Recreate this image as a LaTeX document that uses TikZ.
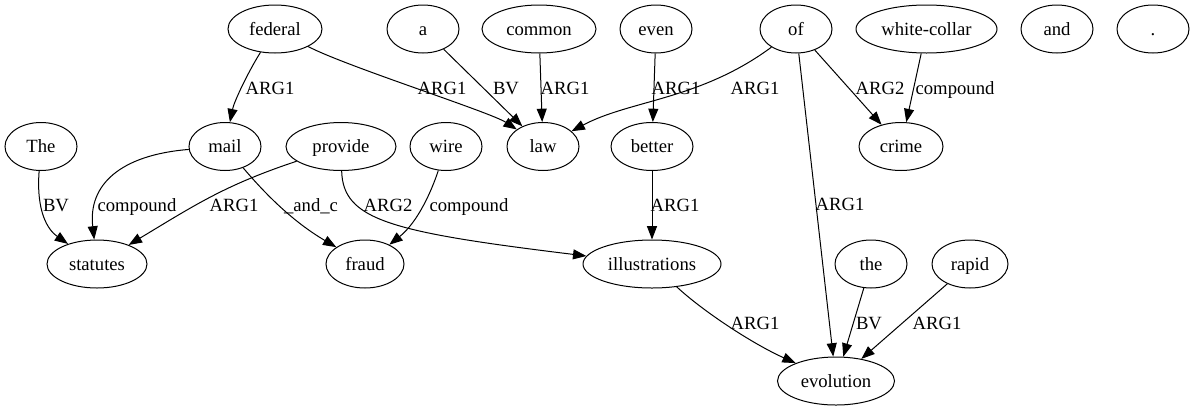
\documentclass[tikz,border=0pt]{standalone}
\usepackage{fontspec}
\setmainfont{Liberation Serif}
\usetikzlibrary{arrows.meta,shapes.geometric}
\begin{document}
\begin{tikzpicture}[x=0.75pt,y=-0.75pt,
  word/.style={draw, ellipse, line width=0.75pt, inner sep=0pt,
    minimum height=36pt, minimum width=54pt,
    text height=10.5pt, text depth=1.5pt,
    font=\fontsize{14pt}{16pt}\selectfont},
  lbl/.style={inner sep=0pt, text height=10.5pt, text depth=1.5pt,
    font=\fontsize{14pt}{16pt}\selectfont},
  edge/.style={line width=0.75pt, -{Triangle[length=10pt,width=7.5pt]}}]
\useasboundingbox (0,0) rectangle (1195,411);

% words, top row
\node[word, minimum width=70.5pt]  (federal) at (275,29)   {federal};
\node[word]                        (a)       at (423,29)   {a};
\node[word, minimum width=85.5pt]  (common)  at (539,29)   {common};
\node[word]                        (even)    at (656,29)   {even};
\node[word]                        (of)      at (796,29)   {of};
\node[word, minimum width=105.75pt](wcollar) at (926.5,29) {white-collar};
\node[word]                        (and)     at (1057,29)  {and};
\node[word]                        (stop)    at (1153,29)  {.};

% second row
\node[word]                        (The)     at (41,146.5)  {The};
\node[word]                        (mail)    at (225,146.5) {mail};
\node[word, minimum width=82.5pt]  (provide) at (341,146.5) {provide};
\node[word]                        (wire)    at (446,146.5) {wire};
\node[word]                        (law)     at (543,146.5) {law};
\node[word, minimum width=61.5pt]  (better)  at (652,146.5) {better};
\node[word, minimum width=63pt]    (crime)   at (901,146.5) {crime};

% third row
\node[word, minimum width=75pt]    (statutes) at (97,264)  {statutes};
\node[word, minimum width=58.5pt]  (fraud)    at (365,264) {fraud};
\node[word, minimum width=103.5pt] (illus)    at (652,264) {illustrations};
\node[word]                        (the)      at (871,264) {the};
\node[word, minimum width=57pt]    (rapid)    at (970,264) {rapid};

% bottom row
\node[word, minimum width=87.75pt] (evolution) at (836,381) {evolution};

% edges
\draw[edge] (federal) .. controls (247,74) and (234,102) .. (mail);
\draw[edge] (federal) .. controls (345,66) and (490,112) .. (law);
\draw[edge] (a) -- (law);
\draw[edge] (common) -- (law);
\draw[edge] (even) -- (better);
\draw[edge] (of) .. controls (700,100) and (630,100) .. (law);
\draw[edge] (of) -- (crime);
\draw[edge] (wcollar) -- (crime);
\draw[edge] (of) -- (evolution);
\draw[edge] (The) .. controls (36,212) and (48,230) .. (statutes);
\draw[edge] (mail) .. controls (120,155) and (88,185) .. (statutes);
\draw[edge] (provide) .. controls (225,185) and (195,205) .. (statutes);
\draw[edge] (mail) .. controls (262,190) and (290,220) .. (fraud);
\draw[edge] (provide) .. controls (343,220) and (390,232) .. (illus);
\draw[edge] (wire) .. controls (432,190) and (418,222) .. (fraud);
\draw[edge] (better) -- (illus);
\draw[edge] (illus) .. controls (705,313) and (755,345) .. (evolution);
\draw[edge] (the) -- (evolution);
\draw[edge] (rapid) -- (evolution);

% edge labels
\node[lbl] (l1)  at (270,88)  {ARG1};
\node[lbl] (l2)  at (442,88)  {ARG1};
\node[lbl] (l3)  at (506,88)  {BV};
\node[lbl] (l4)  at (565,88)  {ARG1};
\node[lbl] (l5)  at (676,88)  {ARG1};
\node[lbl] (l6)  at (755,88)  {ARG1};
\node[lbl] (l7)  at (880,88)  {ARG2};
\node[lbl] (l8)  at (955,88)  {compound};
\node[lbl] (l9)  at (840,204) {ARG1};
\node[lbl] (l10) at (56,205)  {BV};
\node[lbl] (l11) at (137,205) {compound};
\node[lbl] (l12) at (234,205) {ARG1};
\node[lbl] (l13) at (311,205) {\_and\_c};
\node[lbl] (l14) at (388,205) {ARG2};
\node[lbl] (l15) at (469,205) {compound};
\node[lbl] (l16) at (675,205) {ARG1};
\node[lbl] (l17) at (755,323) {ARG1};
\node[lbl] (l18) at (869,323) {BV};
\node[lbl] (l19) at (937,323) {ARG1};
\end{tikzpicture}
\end{document}
